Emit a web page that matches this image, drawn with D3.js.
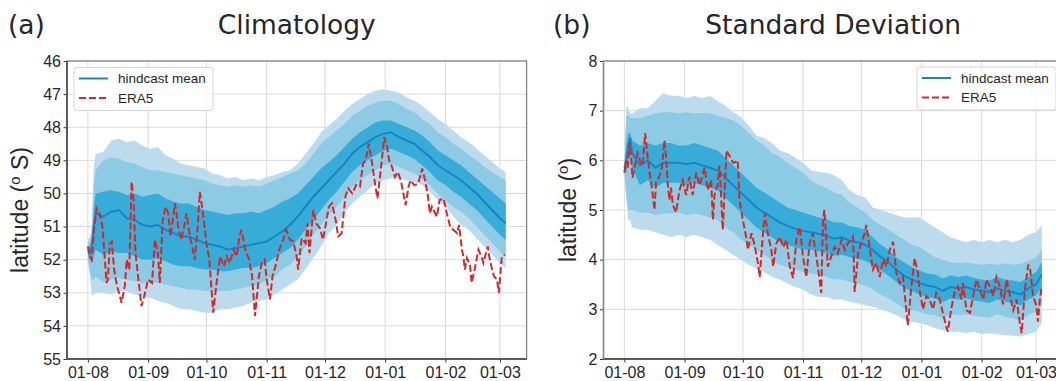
<!DOCTYPE html>
<html>
<head>
<meta charset="utf-8">
<script src="https://cdn.jsdelivr.net/npm/d3@7"></script>
<style>
  body { margin: 0; background: #fff; }
  text { font-family: "Liberation Sans", Arial, sans-serif; fill: #262626; }
</style>
</head>
<body>
<div id="chart"></div>
<script>
// days since 1 August for the band samples
const bandDays = [0,1,2,3,4,8,12,16,20,24,
  28,32,36,40,44,48,52,56,60,64,
  68,72,76,80,84,88,92,96,100,104,
  108,112,116,120,124,128,132,136,140,144,
  148,152,156,160,164,168,172,176,180,184,
  188,192,196,200,204,208,212,215];

// (a) climatology, latitude in degrees S
const climMean = [51.7,51.8,51.6,51.0,50.6,50.7,50.55,50.5,50.75,50.8,
  50.95,51.0,50.95,51.1,51.2,51.3,51.3,51.4,51.5,51.55,
  51.6,51.7,51.65,51.6,51.55,51.5,51.45,51.3,51.15,50.95,
  50.7,50.4,50.1,49.85,49.6,49.35,49.1,48.8,48.6,48.45,
  48.3,48.2,48.15,48.3,48.4,48.5,48.7,48.9,49.15,49.3,
  49.45,49.6,49.8,50.0,50.25,50.5,50.75,50.9];
const climOuterLo = [51.4,51.3,51.0,49.2,48.8,48.75,48.4,48.35,48.45,48.4,
  48.55,48.65,48.6,48.85,48.95,49.1,49.15,49.2,49.25,49.4,
  49.45,49.55,49.5,49.6,49.55,49.6,49.5,49.45,49.35,49.3,
  49.1,48.8,48.5,48.15,47.95,47.75,47.5,47.3,47.15,47.0,
  46.9,46.85,46.9,46.95,47.1,47.2,47.35,47.55,47.75,47.9,
  48.1,48.3,48.45,48.65,48.85,49.05,49.25,49.35];
const climMidLo = [51.5,51.45,51.2,49.8,49.3,49.0,48.9,48.95,49.05,49.1,
  49.2,49.3,49.3,49.35,49.4,49.45,49.5,49.55,49.6,49.7,
  49.75,49.8,49.75,49.8,49.75,49.8,49.7,49.6,49.5,49.4,
  49.3,49.1,48.8,48.5,48.3,48.1,47.9,47.65,47.5,47.35,
  47.25,47.2,47.2,47.3,47.45,47.55,47.75,47.9,48.15,48.3,
  48.5,48.65,48.85,49.0,49.2,49.35,49.5,49.6];
const climInnerLo = [51.6,51.6,51.4,50.5,50.0,49.95,49.9,49.95,50.05,50.0,
  50.1,50.05,50.0,50.15,50.25,50.3,50.3,50.4,50.5,50.55,
  50.6,50.65,50.6,50.6,50.55,50.6,50.5,50.4,50.25,50.15,
  50.0,49.75,49.5,49.25,49.05,48.85,48.6,48.35,48.15,48.0,
  47.85,47.8,47.8,47.9,48.0,48.1,48.25,48.45,48.7,48.85,
  49.0,49.15,49.35,49.55,49.75,49.95,50.15,50.3];
const climInnerHi = [51.85,52.0,52.1,51.9,51.7,51.85,51.75,51.8,51.8,51.9,
  52.0,52.0,51.95,52.05,52.15,52.2,52.2,52.25,52.3,52.3,
  52.35,52.35,52.3,52.25,52.25,52.2,52.1,51.95,51.8,51.65,
  51.4,51.1,50.8,50.5,50.2,49.95,49.65,49.35,49.15,49.0,
  48.85,48.7,48.65,48.75,48.85,48.95,49.15,49.35,49.6,49.75,
  49.95,50.1,50.3,50.5,50.75,51.0,51.25,51.4];
const climMidHi = [52.0,52.3,52.6,52.6,52.5,52.7,52.6,52.55,52.6,52.65,
  52.7,52.7,52.7,52.75,52.8,52.85,52.9,52.9,52.95,52.95,
  52.95,52.95,52.9,52.85,52.8,52.75,52.6,52.5,52.3,52.15,
  51.9,51.6,51.25,50.95,50.65,50.4,50.1,49.8,49.6,49.45,
  49.3,49.15,49.1,49.2,49.3,49.4,49.55,49.75,50.0,50.2,
  50.4,50.55,50.75,51.0,51.25,51.5,51.75,51.9];
const climOuterHi = [52.1,52.5,53.1,53.05,53.0,53.0,53.05,52.95,52.95,53.05,
  53.1,53.15,53.25,53.3,53.4,53.5,53.5,53.55,53.6,53.6,
  53.5,53.5,53.45,53.4,53.3,53.25,53.2,53.05,52.9,52.75,
  52.6,52.3,51.95,51.6,51.2,50.95,50.6,50.3,50.1,49.9,
  49.7,49.6,49.55,49.55,49.6,49.65,49.75,49.95,50.2,50.4,
  50.7,50.95,51.1,51.35,51.6,51.85,52.1,52.25];

// (a) ERA5, [day, latitude]
const era5Clim = [[0,51.6],[1,51.9],[2,52.0],[3,51.2],[4.5,50.45],[6,50.6],[7.5,51.0],[9.6,52.7],[10.3,52.6],[11.3,51.5],
  [12.3,51.45],[13.5,52.3],[15,52.8],[16,53.0],[17.3,53.3],[19,52.8],[20,52.0],[21.3,52.3],[22.5,49.65],[23.5,50.2],
  [24.5,51.8],[26,52.6],[27.6,53.4],[29,53.1],[31,52.6],[33,52.7],[34.5,51.4],[36,51.8],[37,52.7],[38.5,50.8],
  [40,50.4],[41.3,50.6],[42.5,51.3],[44.8,50.3],[46.5,51.0],[48,51.4],[49.5,51.0],[50.8,50.6],[52.5,51.3],[54,51.7],
  [55,52.0],[56.5,51.0],[57.6,49.95],[59,50.5],[61,51.5],[62.5,52.0],[64.5,53.6],[66,52.8],[68,51.9],[70,52.2],
  [71.5,51.9],[73,52.1],[75,51.7],[76.5,51.9],[78,51.3],[79,51.1],[81,51.7],[83,52.0],[84.5,52.5],[86,53.7],
  [88,52.5],[89.5,52.1],[91,52.0],[92,52.6],[93.7,53.2],[95,52.5],[96.5,52.2],[98.5,51.7],[100.5,51.4],[102,51.1],
  [104,51.4],[105.7,51.45],[107.4,51.9],[108.2,52.3],[110,51.35],[112,51.5],[113,50.9],[114,51.8],[116,50.5],[117.5,50.9],
  [119.4,51.05],[121,51.4],[124,50.4],[125.6,50.3],[127.5,50.8],[128.8,51.3],[130.6,51.2],[132.5,50.1],[134,49.85],[136,50.0],
  [138,49.75],[140,49.8],[141.6,49.1],[143,49.0],[144.5,48.5],[146,49.0],[148,49.8],[149,50.15],[150.5,49.4],[152.5,48.3],
  [154,48.6],[155,49.0],[156.5,49.2],[158,49.5],[159.5,49.35],[161,49.6],[162,49.9],[163.5,50.35],[165,49.8],[166,49.6],
  [168,49.75],[170,49.7],[172,49.25],[173.5,49.6],[175,50.1],[176,50.6],[177,50.4],[179.6,50.7],[181,50.2],[183,50.15],
  [184.7,50.6],[186.4,51.0],[188,51.1],[190,51.2],[191,50.95],[191.5,51.2],[192.5,51.7],[193.2,51.9],[194,52.3],[195,51.95],
  [196.6,52.15],[197.5,52.7],[199,52.3],[200,52.0],[201,51.7],[202.8,51.95],[203.5,52.1],[205.8,51.6],[206.5,51.9],[208,52.3],
  [209,52.5],[210.5,52.6],[211.5,53.0],[213,51.9],[214.6,51.85]];

// (b) standard deviation, degrees
const sdMean = [5.85,6.0,6.3,6.45,6.15,5.9,6.0,5.85,5.95,5.95,
  5.95,5.92,5.95,5.9,5.85,5.8,5.65,5.5,5.35,5.2,
  5.05,4.95,4.85,4.75,4.68,4.62,4.58,4.55,4.52,4.48,
  4.42,4.45,4.38,4.35,4.3,4.2,4.05,3.95,3.8,3.68,
  3.6,3.53,3.48,3.45,3.37,3.45,3.42,3.45,3.4,3.38,
  3.35,3.42,3.38,3.35,3.3,3.42,3.5,3.7];
const sdOuterHi = [5.95,7.1,7.05,6.95,6.95,7.05,7.05,7.2,7.35,7.3,
  7.3,7.25,7.3,7.25,7.3,7.2,7.1,6.97,6.87,6.7,
  6.5,6.45,6.35,6.2,6.15,6.05,5.95,5.8,5.77,5.75,
  5.7,5.6,5.4,5.3,5.25,5.05,5.0,4.95,4.9,4.85,
  4.85,4.85,4.75,4.65,4.55,4.45,4.4,4.35,4.4,4.35,
  4.4,4.35,4.4,4.35,4.4,4.5,4.55,4.7];
const sdMidHi = [5.92,6.9,6.9,6.85,6.85,6.85,6.9,6.95,6.97,6.97,
  6.95,6.97,6.95,6.95,6.95,6.9,6.85,6.8,6.7,6.55,
  6.4,6.3,6.15,6.07,5.95,5.85,5.75,5.6,5.5,5.45,
  5.35,5.3,5.15,5.05,4.95,4.8,4.7,4.6,4.5,4.4,
  4.3,4.25,4.15,4.05,4.0,3.95,3.93,3.95,3.92,3.9,
  3.92,3.9,3.93,3.9,3.92,3.98,4.05,4.2];
const sdInnerHi = [5.9,6.3,6.55,6.55,6.4,6.3,6.35,6.3,6.35,6.35,
  6.3,6.3,6.35,6.3,6.25,6.2,6.05,5.9,5.75,5.6,
  5.45,5.35,5.25,5.15,5.05,5.0,4.95,4.9,4.85,4.82,
  4.75,4.75,4.68,4.65,4.6,4.45,4.3,4.2,4.05,3.95,
  3.85,3.78,3.72,3.7,3.62,3.68,3.65,3.68,3.63,3.6,
  3.58,3.65,3.6,3.58,3.55,3.65,3.75,3.95];
const sdInnerLo = [5.8,5.75,5.95,6.1,5.85,5.5,5.6,5.45,5.55,5.55,
  5.55,5.5,5.55,5.5,5.45,5.4,5.25,5.1,4.95,4.8,
  4.65,4.55,4.45,4.35,4.3,4.25,4.2,4.2,4.17,4.13,
  4.08,4.1,4.05,4.02,3.98,3.9,3.78,3.68,3.55,3.43,
  3.37,3.3,3.25,3.22,3.15,3.22,3.2,3.22,3.18,3.16,
  3.13,3.2,3.16,3.12,3.08,3.2,3.28,3.45];
const sdMidLo = [5.78,5.3,5.0,5.0,5.0,4.95,4.95,4.9,4.93,4.93,
  4.95,4.9,4.93,4.9,4.85,4.8,4.65,4.55,4.4,4.3,
  4.2,4.1,4.0,3.9,3.85,3.8,3.75,3.72,3.7,3.65,
  3.6,3.6,3.55,3.52,3.48,3.4,3.3,3.22,3.12,3.02,
  2.98,2.95,2.9,2.88,2.82,2.9,2.88,2.9,2.87,2.85,
  2.83,2.9,2.85,2.82,2.78,2.88,2.95,3.1];
const sdOuterLo = [5.75,5.2,4.8,4.8,4.65,4.6,4.6,4.55,4.5,4.45,
  4.5,4.45,4.5,4.45,4.4,4.3,4.2,4.1,4.0,3.9,
  3.82,3.75,3.65,3.6,3.52,3.45,3.4,3.3,3.25,3.25,
  3.2,3.2,3.15,3.12,3.08,3.05,3.0,2.95,2.88,2.8,
  2.75,2.72,2.68,2.62,2.58,2.55,2.55,2.52,2.55,2.5,
  2.52,2.5,2.48,2.47,2.45,2.5,2.55,2.72];

// (b) ERA5, [day, degrees]
const era5Sd = [[0,5.75],[0.9,6.0],[1.7,5.85],[2.6,6.35],[3.4,6.07],[4.2,5.65],[5,5.8],[6.8,6.15],[8.5,5.95],[9.4,5.9],
  [10.7,6.55],[12,6.07],[13,5.75],[14.3,5.4],[15.5,5.0],[16.3,5.55],[18,5.67],[19.4,5.87],[20.6,6.4],[21.5,6.07],
  [22.3,5.55],[23.2,5.2],[24,5.45],[25,5.1],[26.6,4.95],[28.4,5.4],[30,5.6],[31.8,5.3],[33.5,5.67],[35.2,5.3],
  [37,5.75],[38.7,5.5],[41.3,5.85],[43,5.4],[44.7,5.6],[45.6,4.8],[46.4,5.3],[48,5.5],[49,5.9],[50.7,4.6],
  [52.6,6.2],[54,6.1],[56,5.95],[57.6,5.97],[58.4,6.0],[59.3,5.2],[60.2,5.0],[61,4.8],[63,4.4],[63.6,4.2],
  [65.5,4.53],[67,4.3],[68.8,3.93],[69.7,3.65],[71.4,4.53],[72.3,4.93],[74,4.5],[75.7,4.2],[76.6,3.86],[78.3,4.33],
  [80,4.46],[81.8,4.25],[83.5,4.4],[85.2,3.86],[86.9,3.63],[88.6,4.4],[90.3,4.66],[92,4.06],[93.7,3.65],[95.4,4.33],
  [97,4.53],[99.5,3.9],[101.4,3.33],[102.3,4.8],[103,5.0],[104,4.4],[104.8,3.86],[106.5,4.06],[108.3,4.26],[110,4.13],
  [111.8,4.4],[113.5,4.2],[115,4.33],[116.9,4.4],[117.8,4.46],[118.6,3.35],[120.4,4.13],[122,4.33],[123.8,4.53],[124.6,4.7],
  [126.3,4.26],[128,3.8],[129.8,3.93],[131.5,3.65],[133.2,4.0],[135,3.86],[136.7,4.2],[138.4,4.36],[140.1,3.73],[141.8,3.53],
  [143.5,3.65],[145.2,2.98],[146,2.68],[147.8,3.46],[149.5,4.03],[151.2,3.73],[152,3.4],[153.8,3.0],[155.5,3.27],[157.2,3.2],
  [159,3.0],[160.6,3.33],[162.4,3.2],[164,2.93],[165.8,2.65],[166.6,2.55],[168.3,3.0],[170,3.33],[171.8,3.46],[173.6,3.2],
  [174.4,3.53],[176.2,2.98],[178,2.93],[179.6,3.27],[181.4,3.6],[183,3.4],[184.9,3.2],[186.5,3.6],[188.2,3.46],[190,3.27],
  [191.6,3.65],[193.4,3.46],[195,3.1],[196.9,3.6],[198.6,3.27],[200.3,2.98],[202,3.2],[203.7,2.72],[204.6,2.52],[206.3,3.4],
  [208,3.9],[209,3.8],[210.5,3.27],[212.2,3.07],[213,2.75],[214,3.2],[214.9,3.46]];

const climTicks = [46,47,48,49,50,51,52,53,54,55];
const sdTicks = [2,3,4,5,6,7,8];
const legendLabels = ["hindcast mean", "ERA5"];

// colours
const cOuter = "#bcdcee", cMid = "#8dcae3", cInner = "#38acd8",
      cMean = "#1884c6", cEra = "#d62728";

const W = 1056, H = 381;
const svg = d3.select("#chart")
  .append("svg")
    .attr("width", W)
    .attr("height", H);

// day index -> date (season starting 1 Aug)
const base = Date.UTC(2018, 7, 1);
const toDate = d => new Date(base + d * 864e5);

function drawPanel(p) {
  const x = d3.scaleUtc()
    .domain([toDate(-10.75), toDate(225.75)])
    .range([p.left, p.right]);
  const y = d3.scaleLinear()
    .domain(p.yDomain)
    .range([p.top, p.bottom]);

  const g = svg.append("g");

  // clip to plot area
  g.append("clipPath").attr("id", "clip-" + p.id)
    .append("rect")
      .attr("x", p.left).attr("y", p.top)
      .attr("width", p.right - p.left).attr("height", p.bottom - p.top);

  const months = d3.utcMonth.range(toDate(0), toDate(215));

  // grid
  g.append("g").selectAll("line")
    .data(p.ticks).join("line")
      .attr("x1", p.left).attr("x2", p.right)
      .attr("y1", d => y(d)).attr("y2", d => y(d))
      .attr("stroke", "#dadada").attr("stroke-width", 1);
  g.append("g").selectAll("line")
    .data(months).join("line")
      .attr("x1", d => x(d)).attr("x2", d => x(d))
      .attr("y1", p.top).attr("y2", p.bottom)
      .attr("stroke", "#dadada").attr("stroke-width", 1);

  const plot = g.append("g").attr("clip-path", `url(#clip-${p.id})`);

  const area = (lo, hi) => d3.area()
    .x((d, i) => x(toDate(bandDays[i])))
    .y0((d, i) => y(lo[i]))
    .y1((d, i) => y(hi[i]))(bandDays);

  plot.append("path").attr("d", area(p.outer[0], p.outer[1])).attr("fill", cOuter);
  plot.append("path").attr("d", area(p.mid[0], p.mid[1])).attr("fill", cMid);
  plot.append("path").attr("d", area(p.inner[0], p.inner[1])).attr("fill", cInner);

  plot.append("path")
    .datum(p.mean)
    .attr("d", d3.line().x((d, i) => x(toDate(bandDays[i]))).y(d => y(d)))
    .attr("fill", "none").attr("stroke", cMean).attr("stroke-width", 2);

  plot.append("path")
    .datum(p.era5)
    .attr("d", d3.line().x(d => x(toDate(d[0]))).y(d => y(d[1])))
    .attr("fill", "none").attr("stroke", cEra).attr("stroke-width", 2)
    .attr("stroke-dasharray", "7,3");

  // axes
  const yAxis = g.append("g")
    .attr("transform", `translate(${p.left},0)`)
    .call(d3.axisLeft(y).tickValues(p.ticks).tickFormat(d3.format("d"))
      .tickSize(3.5).tickPadding(2.5));
  yAxis.select(".domain").remove();
  yAxis.selectAll(".tick line").attr("stroke", "#333");
  yAxis.selectAll(".tick text").style("font-size", "16px")
    .style("font-family", "Liberation Sans, Arial, sans-serif").attr("fill", "#262626");

  const xAxis = g.append("g")
    .attr("transform", `translate(0,${p.bottom})`)
    .call(d3.axisBottom(x).tickValues(months).tickFormat(d3.utcFormat("%d-%m"))
      .tickSize(3.5).tickPadding(4));
  xAxis.select(".domain").remove();
  xAxis.selectAll(".tick line").attr("stroke", "#333");
  xAxis.selectAll(".tick text").style("font-size", "16px")
    .style("font-family", "Liberation Sans, Arial, sans-serif").attr("fill", "#262626");

  // spines
  g.append("rect")
    .attr("x", p.left).attr("y", p.top)
    .attr("width", p.right - p.left).attr("height", p.bottom - p.top)
    .attr("fill", "none").attr("stroke", "#808080").attr("stroke-width", 1.25);
  g.append("line")
    .attr("x1", p.left).attr("x2", p.left).attr("y1", p.top).attr("y2", p.bottom)
    .attr("stroke", p.leftSpine).attr("stroke-width", 1.5);
  g.append("line")
    .attr("x1", p.left).attr("x2", p.right).attr("y1", p.bottom).attr("y2", p.bottom)
    .attr("stroke", "#404040").attr("stroke-width", 1.5);

  // y label
  const yl = g.append("text")
    .attr("transform", `translate(${p.ylabelX},${(p.top + p.bottom) / 2}) rotate(-90)`)
    .attr("text-anchor", "middle")
    .style("font-size", "23px");
  yl.append("tspan").text("latitude (");
  yl.append("tspan").attr("dy", -8).style("font-size", "15px").text("o");
  yl.append("tspan").attr("dy", 8).text(p.ylabelTail);

  // titles
  g.append("text")
    .attr("x", p.letterX).attr("y", 34)
    .style("font-family", "DejaVu Sans, sans-serif").style("font-size", "26.5px")
    .attr("fill", "#000")
    .text(p.letter);
  g.append("text")
    .attr("x", (p.left + p.right) / 2).attr("y", 34)
    .attr("text-anchor", "middle")
    .style("font-family", "DejaVu Sans, sans-serif").style("font-size", "26.5px")
    .attr("fill", "#000")
    .text(p.title);

  // legend
  const lg = g.append("g").attr("transform", `translate(${p.legX},${p.legY})`);
  lg.append("rect")
    .attr("width", 139).attr("height", 43).attr("rx", 3)
    .attr("fill", "#fff").attr("fill-opacity", 0.8)
    .attr("stroke", "#d4d4d4").attr("stroke-width", 1);
  lg.append("line").attr("x1", 5).attr("x2", 34).attr("y1", 11).attr("y2", 11)
    .attr("stroke", cMean).attr("stroke-width", 2);
  lg.append("line").attr("x1", 5).attr("x2", 34).attr("y1", 30.5).attr("y2", 30.5)
    .attr("stroke", cEra).attr("stroke-width", 2).attr("stroke-dasharray", "7,3");
  lg.selectAll("text.leg")
    .data(legendLabels).join("text")
      .attr("class", "leg")
      .attr("x", 44).attr("y", (d, i) => 11 + i * 19.5)
      .attr("dy", "0.35em")
      .style("font-size", "13.5px")
      .text(d => d);
}

drawPanel({
  id: "a", left: 67, right: 526.6, top: 61, bottom: 359,
  yDomain: [46, 55], ticks: climTicks,
  outer: [climOuterLo, climOuterHi], mid: [climMidLo, climMidHi], inner: [climInnerLo, climInnerHi],
  mean: climMean, era5: era5Clim,
  letter: "(a)", letterX: 8, title: "Climatology",
  ylabelX: 28, ylabelTail: " S)", leftSpine: "#404040",
  legX: 74, legY: 67.5
});

drawPanel({
  id: "b", left: 603.5, right: 1062.7, top: 61, bottom: 359,
  yDomain: [8, 2], ticks: sdTicks,
  outer: [sdOuterLo, sdOuterHi], mid: [sdMidLo, sdMidHi], inner: [sdInnerLo, sdInnerHi],
  mean: sdMean, era5: era5Sd,
  letter: "(b)", letterX: 553, title: "Standard Deviation",
  ylabelX: 576, ylabelTail: ")", leftSpine: "#8a8a8a",
  legX: 917, legY: 67
});
</script>
</body>
</html>
